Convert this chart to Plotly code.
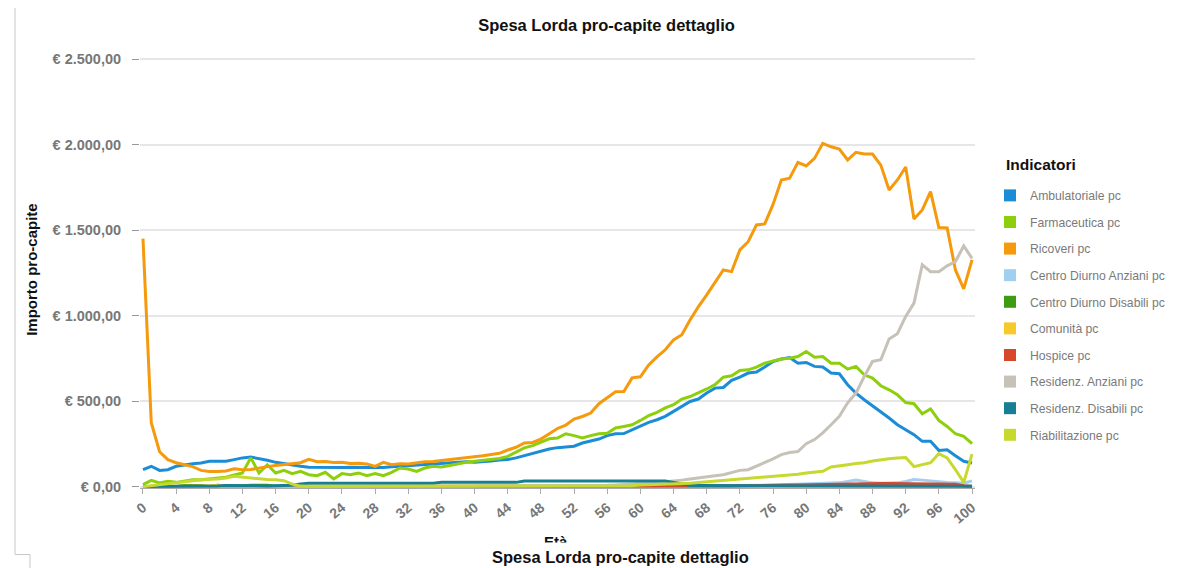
import plotly.graph_objects as go

ages = list(range(0, 101))

ambulatoriale = [99, 119, 95, 99, 119, 128, 134, 138, 148, 148, 148, 158, 168, 173, 165, 154, 142, 134, 123, 119,
                 113, 112, 110, 112, 112, 114, 113, 115, 114, 112, 116, 119, 123, 125, 128, 132, 134, 138, 140, 145,
                 142, 148, 150, 155, 158, 168, 181, 192, 206, 220, 228, 230, 236, 255, 265, 278, 298, 309, 310, 333,
                 356, 376, 391, 411, 440, 469, 498, 512, 547, 576, 580, 621, 640, 664, 670, 699, 732, 746, 755, 722,
                 726, 703, 699, 664, 660, 596, 547, 508, 473, 440, 401, 362, 333, 304, 265, 265, 212, 216, 181, 148,
                 138]
farmaceutica = [12, 37, 21, 31, 25, 31, 40, 40, 45, 50, 55, 68, 80, 168, 80, 128, 80, 95, 76, 89,
                70, 64, 84, 45, 76, 70, 80, 64, 76, 64, 84, 109, 103, 89, 109, 119, 115, 123, 134, 142,
                148, 154, 158, 165, 177, 200, 227, 240, 259, 280, 284, 309, 298, 284, 298, 309, 312, 343, 352, 362,
                387, 415, 434, 460, 479, 512, 527, 547, 571, 596, 640, 648, 679, 683, 699, 722, 732, 746, 751, 761,
                790, 757, 761, 722, 722, 687, 703, 654, 635, 590, 566, 537, 492, 485, 426, 454, 387, 352, 309, 294,
                251]
ricoveri = [1450, 374, 204, 158, 140, 128, 117, 95, 88, 88, 92, 104, 99, 100, 110, 117, 123, 128, 134, 140,
            160, 146, 147, 141, 142, 135, 136, 133, 118, 142, 128, 134, 133, 140, 146, 147, 152, 158, 164, 170,
            175, 181, 188, 195, 214, 230, 255, 258, 278, 308, 340, 360, 395, 410, 430, 485, 520, 555, 556, 636,
            642, 712, 759, 800, 858, 888, 975, 1053, 1121, 1191, 1267, 1257, 1384, 1432, 1530, 1536, 1650, 1793, 1803, 1896,
            1875, 1919, 2007, 1987, 1974, 1910, 1955, 1945, 1945, 1880, 1734, 1793, 1869, 1565, 1618, 1725, 1515, 1512, 1267, 1156,
            1326]
centro_diurno_anziani = [0] * 60 + [2, 2, 3, 3, 3, 4, 4, 4, 5, 5, 5, 6, 6, 6, 7, 8, 10, 12, 13, 14,
                                    15, 16, 18, 20, 22, 30, 38, 30, 22, 20, 20, 22, 30, 42, 38, 32, 28, 24, 22, 20,
                                    34]
centro_diurno_disabili = [0, 0, 0, 0, 1, 7, 8, 7, 3, 8, 4, 3, 4, 8, 9, 8, 3, 2, 1, 1] + [1] * 81
comunita = [0, 0, 0, 0, 1, 1, 1, 2, 3, 8, 2, 1, 1, 1, 1, 1, 1, 1, 1, 1] + [1] * 81
hospice = [0] * 50 + [1, 1, 1, 1, 2, 2, 2, 2, 2, 2, 3, 3, 3, 3, 3, 3, 3, 4, 4, 4,
                      4, 4, 5, 5, 5, 5, 6, 8, 9, 10, 11, 12, 15, 16, 17, 18, 18, 18, 18, 18,
                      18, 18, 17, 18, 18, 18, 17, 16, 14, 5, 2]
residenz_anziani = [0] * 18 + [3] * 23 + [5] * 15 + [8, 10, 12, 14, 17, 20, 24, 28, 31, 38, 45, 50, 57, 63, 70, 84,
                                                     95, 99, 119, 138, 162, 187, 200, 205, 251, 275, 314, 362, 411, 490,
                                                     547, 644, 732, 742, 863, 894, 995, 1073, 1297, 1257, 1257, 1291,
                                                     1316, 1407, 1335]
residenz_disabili = [1, 1, 1, 1, 1, 4, 4, 4, 5, 4, 6, 5, 4, 4, 4, 4, 5, 5, 8, 15] + [20] * 16 + [25] * 10 + \
                    [33] * 18 + [25, 15] + [6] * 22 + [2] * 13
riabilitazione = [0, 5, 10, 15, 20, 28, 35, 40, 43, 45, 50, 60, 55, 50, 45, 42, 40, 35, 15, 3] + \
                 [2] * 20 + [3] * 10 + [5] * 10 + \
                 [10, 11, 12, 14, 15, 18, 20, 24, 28, 31, 35, 38, 42, 45, 48, 52, 57, 61, 65, 72,
                  80, 85, 90, 115, 120, 128, 135, 140, 150, 158, 163, 168, 170, 117, 128, 140, 193, 168, 100, 25,
                  190]

series_names = ["Ambulatoriale pc", "Farmaceutica pc", "Ricoveri pc", "Centro Diurno Anziani pc",
                "Centro Diurno Disabili pc", "Comunità pc", "Hospice pc", "Residenz. Anziani pc",
                "Residenz. Disabili pc", "Riabilitazione pc"]
series_values = [ambulatoriale, farmaceutica, ricoveri, centro_diurno_anziani, centro_diurno_disabili,
                 comunita, hospice, residenz_anziani, residenz_disabili, riabilitazione]
series_colors = ["#1b8dd6", "#8dcf0c", "#f49a0c", "#9fd0f1", "#3d9c12", "#f7ca2b", "#d9472b",
                 "#c6c2b8", "#177f93", "#c7d82e"]

y_tick_vals = [0, 500, 1000, 1500, 2000, 2500]
y_tick_text = ["€ 0,00", "€ 500,00", "€ 1.000,00", "€ 1.500,00", "€ 2.000,00", "€ 2.500,00"]
x_tick_vals = list(range(0, 101, 4))

fig = go.Figure()
for name, vals, col in zip(series_names, series_values, series_colors):
    fig.add_trace(go.Scatter(x=ages, y=vals, mode="lines", name=name, legendgroup=name,
                             showlegend=False, line=dict(color=col, width=3)))
for name, col in zip(series_names, series_colors):
    fig.add_trace(go.Scatter(x=[None], y=[None], mode="markers", name=name, legendgroup=name,
                             marker=dict(symbol="square", size=12, color=col)))

# page offset: the figure div sits 8px from the page's top-left corner
OFF = 8
FW, FH = 1185 - OFF, 568 - OFF
L, R, T, BOT = 140 - OFF, 975 - OFF, 57 - OFF, 488.4 - OFF
W = R - L
H = BOT - T


def px(x):
    return (x - OFF - L) / W


def py(y):
    return (BOT - (y - OFF)) / H


fig.update_layout(
    width=FW, height=FH,
    margin=dict(l=L, r=FW - R, t=T, b=FH - BOT, pad=0),
    paper_bgcolor="white", plot_bgcolor="white",
    font=dict(family="Liberation Sans, Arial, sans-serif"),
    title=dict(text="Spesa Lorda pro-capite dettaglio", x=(606.5 - OFF) / FW, y=1 - (25 - OFF) / FH,
               xanchor="center", yanchor="middle",
               font=dict(size=16.5, color="#111111", weight="bold")),
    xaxis=dict(range=[-0.36, 100.36], tickvals=x_tick_vals, tickangle=-40,
               showgrid=False, zeroline=False, showline=True, linecolor="#aaaaaa", linewidth=1,
               ticks="outside", ticklen=5, tickcolor="#aaaaaa",
               tickfont=dict(size=14, color="#777777", weight="bold")),
    yaxis=dict(range=[-8, 2512], tickvals=y_tick_vals, ticktext=y_tick_text,
               showgrid=True, gridcolor="#e6e6e6", gridwidth=1.5, zeroline=False, showline=False,
               ticks="outside", ticklen=7, tickcolor="#999999", ticklabelstandoff=8,
               tickfont=dict(size=14.5, color="#777777", weight="bold")),
    showlegend=True,
    legend=dict(x=px(990), y=py(181), xanchor="left", yanchor="top",
                font=dict(size=12.2, color="#7a7a7a"), tracegroupgap=7.6, bgcolor="rgba(0,0,0,0)"),
)

fig.add_annotation(x=px(1004), y=py(165), xref="paper", yref="paper", text="Indicatori",
                   xanchor="left", yanchor="middle", showarrow=False,
                   font=dict(size=15.5, color="#111111", weight="bold"))
fig.add_annotation(x=px(32), y=py(270), xref="paper", yref="paper", text="Importo pro-capite",
                   textangle=-90, showarrow=False, xanchor="center", yanchor="middle",
                   font=dict(size=15, color="#111111", weight="bold"))
fig.add_annotation(x=px(556), y=py(542), xref="paper", yref="paper", text="Età", showarrow=False,
                   xanchor="center", yanchor="middle",
                   font=dict(size=15, color="#111111", weight="bold"))
fig.add_annotation(x=px(620.5), y=py(557), xref="paper", yref="paper", text="Spesa Lorda pro-capite dettaglio",
                   showarrow=False, bgcolor="white", borderpad=5, xanchor="center", yanchor="middle",
                   font=dict(size=16.5, color="#111111", weight="bold"))

# frame lines at the left edge of the screenshot
fig.add_shape(type="line", xref="paper", yref="paper", x0=px(15), x1=px(15), y0=py(7), y1=py(555),
              line=dict(color="#c8c8c8", width=1))
fig.add_shape(type="line", xref="paper", yref="paper", x0=px(15), x1=px(30), y0=py(555), y1=py(555),
              line=dict(color="#c8c8c8", width=1))
fig.add_shape(type="line", xref="paper", yref="paper", x0=px(30), x1=px(30), y0=py(555), y1=py(570),
              line=dict(color="#c8c8c8", width=1))

fig.write_html("out.html")
